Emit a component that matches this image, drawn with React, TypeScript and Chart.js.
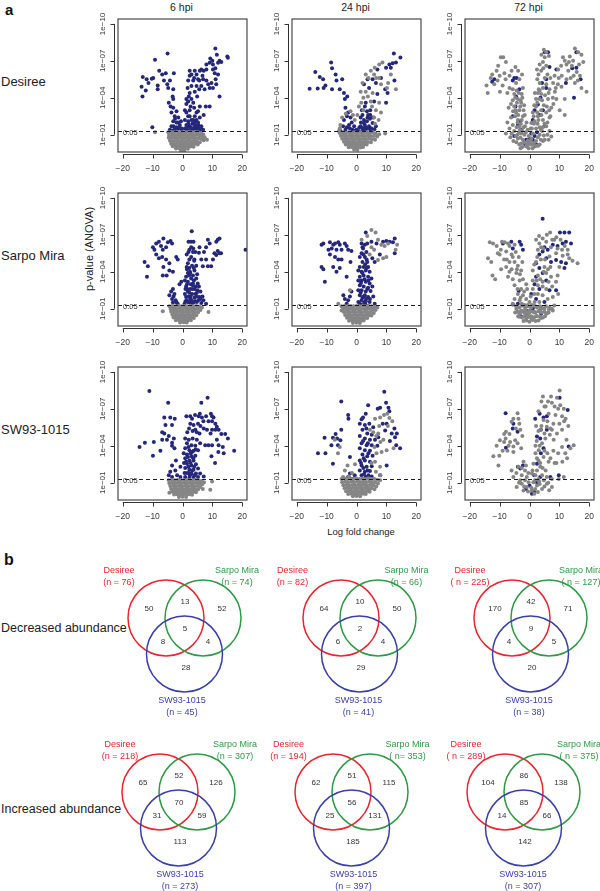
import React, { useEffect, useRef } from 'react';
import { Chart, registerables } from 'chart.js';
Chart.register(...registerables);

const FONT = '"Liberation Sans", Arial, sans-serif';
const NAVY = '#25287a';
const GREY = '#858585';

// ---------- panel (a) axes ----------
const X_TICKS = [-20, -10, 0, 10, 20];
const X_TICK_LABELS = ['\u221220', '\u221210', '0', '10', '20'];
const Y_TICKS = [1, 4, 7, 10]; // -log10(p)
const Y_TICK_LABELS = ['1e\u221201', '1e\u221204', '1e\u221207', '1e\u221210'];
const P_CUTOFF = 0.05;
const TIMEPOINTS = ['6 hpi', '24 hpi', '72 hpi'];
const CULTIVARS = ['Desiree', 'Sarpo Mira', 'SW93-1015'];

// ---------- volcano points: "logFC,-log10(p)" ----------
const D6_SIG = "15,7.35 15.2,7.25 11,8 11.5,7.5 -5,7.6 -9.2,7.1 12.4,7 13,6.9 11.9,6.85 10.2,6.7 9.1,6.85 8,6.7 6.3,6.3 7.1,6.2 5.8,6.2 4.1,6.2 2.4,6.2 3,5.9 4.7,5.9 6.9,5.5 5.6,5.4 3.6,5.4 1.9,5.4 8,5.4 9.7,5.2 11.3,5.1 10.2,4.8 12.4,4.1 9.1,4.8 7.4,4.7 5.6,4.7 4.1,4.5 2.4,4.4 4.9,4.1 3,3.9 1.9,3.7 3.6,3.6 5.8,3.3 7.8,3.3 9.1,3.3 7.1,2.6 4.7,2.8 2.4,3 1.9,2.5 3.6,2.2 5.2,2 6.3,1.7 1.3,1.8 3,1.5 4.7,1.5 1.3,1.4 -13.3,5.7 -12,5.5 -10.3,5.55 -9.8,5.6 -11.4,5.2 -13.7,4.9 -12.3,4.6 -13.4,4.1 -7.8,6.2 -6.8,5.9 -5.6,6 -4.2,5.4 -6.2,5.4 -8.3,5 -8.3,4.7 -5.1,5.1 -4.8,4.8 -3.1,4.7 -2.9,6 -3.3,4.1 -3.1,3.9 -4.6,3.6 -4,3.3 -3.1,3.2 -2,2.9 -3.7,2.8 -2.6,2.5 -1.4,2.4 -3.1,2.1 -2,2 -0.9,1.8 -3.7,1.7 -2.6,1.5 -1.4,1.5 -0.3,1.5 -10.1,1.6 -4.2,1.4 0.8,3 1.3,2.8 2.4,2.5 3,2.2 4.1,2.5 1.9,2.1 4.7,2.2 5.8,2.4 4.1,2 2.4,1.7 3.6,1.4 5.8,1.5 6.9,1.4 0.8,1.5 1.9,1.35 3,1.35 4.7,1.35 5.8,1.35 -0.3,1.35 -2,1.35 -3.1,1.35 -4.2,1.35 0.8,2.2 1.3,3.5 2.7,3.3 3.9,3.2 5.2,2.9 1.3,3.9 2.1,4.1 3,4.95 1.7,4.8 4.7,4.95 6.3,4.95 8.6,5.1 3.9,5.6 5.2,5.5 6.7,5.8 2.4,5.8 8,6.3 10.2,6.3 11,6.4 10.8,6 11.9,5.9 11.1,5.5 10,7 9.3,7.2 2,1.9 3.3,1.9 4.3,1.75 5.3,1.8 1.6,1.6 2.6,1.6 3.9,1.6 5,1.6 6,1.6 -1,1.6 -2,1.6 -3,1.7 -1.5,2 -2.5,2.3 -0.5,2.1";
const D6_NS = "-4.8,1.2 -3.8,1.22 -2.8,1.2 -1.8,1.22 -0.8,1.2 0.2,1.22 1.2,1.2 2.2,1.22 3.2,1.2 4.2,1.22 5.2,1.2 6.2,1.15 6.9,1.05 -4.5,0.98 -3.4,1 -2.3,0.97 -1.3,1 -0.3,0.98 0.7,1 1.7,0.97 2.7,1 3.7,0.97 4.7,1 5.7,0.95 6.6,0.88 7.4,0.8 -4.6,0.75 -3.6,0.75 -2.6,0.78 -1.6,0.74 -0.6,0.77 0.4,0.74 1.4,0.77 2.4,0.74 3.4,0.77 4.4,0.74 5.4,0.72 6.3,0.65 7.1,0.55 -4.2,0.52 -3.2,0.5 -2.2,0.53 -1.2,0.5 -0.2,0.52 0.8,0.5 1.8,0.53 2.8,0.5 3.8,0.52 4.8,0.48 5.8,0.4 -3.8,0.28 -2.8,0.3 -1.8,0.27 -0.8,0.3 0.2,0.28 1.2,0.3 2.2,0.27 3.2,0.3 4.2,0.26 5.1,0.2 -3.3,0.06 -2.3,0.08 -1.3,0.05 -0.3,0.08 0.7,0.05 1.7,0.08 2.7,0.05 3.7,0.03 -2.2,-0.12 -1.2,-0.1 -0.2,-0.14 0.8,-0.1 1.8,-0.13 -0.5,-0.28 0.6,-0.3 -9.2,1.2 8.2,0.6";

const D24_SIG = "14.7,7.27 12.5,7.6 13.2,6.86 12.1,6.8 11,6.7 9.9,6.45 11.5,6.45 7,6.3 8.2,5.6 5.4,5.5 6.5,5.2 3.7,5.5 2.5,5.1 4.2,4.8 9.6,4.7 10.4,4.4 12.7,5.4 9.9,3.6 7,4.3 5.9,3.7 4.6,3 3.1,3.6 2,2.6 3.7,2.4 2.5,1.95 1.4,1.7 4.2,1.7 5.4,1.95 6.5,1.7 3.1,1.4 2,1.35 0.8,1.3 4.8,1.35 2.5,2.2 1.4,2.4 3.9,2.6 -8.5,6.86 -8.2,6.4 -13.8,6.1 -12.3,5.7 -11.2,5.5 -10.4,5 -13,4.76 -15.7,4.73 -11,4.8 -7,5.9 -6.7,5.4 -4.8,5.5 -5.6,4.7 -8.2,4.7 -4.2,4.4 -3.9,3.9 -3.1,4.1 -3.7,3.2 -2.8,2.8 -2,2.4 -4.2,2.2 -2.5,1.8 -3.7,1.4 -1.4,1.4 -5.4,1.3 -0.8,1.7 1.5,2 2.8,1.8 3.5,2.1 4.5,2.3 1,1.6 2,1.55 3,1.6 4,1.5 5,1.5 6,1.45 1.8,3 2.8,3.3 3.5,2.9 4.6,2.6 5.5,2.4 -3.2,1.6 -2.2,1.5 -4.5,1.7 -3.2,2.5 -1.6,2 -1,1.35 0,1.4";
const D24_NS = "7.6,6.7 8.7,6.86 6.1,6.45 4.8,6.2 5.9,5.9 7.6,5.6 3.1,5.9 2,5.2 3.1,4.5 5.4,4.4 8.2,5.1 10.2,4.8 1.4,4.5 2.3,4 4.8,3.7 6.5,3 8.2,2.8 5.9,2.4 2.3,3 0.8,3.3 0.3,2.6 -0.6,2.2 -2,2.9 -4.8,2.4 -5.4,1.8 -5.9,1.3 9.6,1.1 13.2,4.7 10.6,5.2 11.5,5.9 4,5.6 6.6,5.6 3.8,4.1 5.2,3.3 7.6,3.6 1.6,3.6 6.2,1.9 7.4,2.2 -1.2,2.6 -3.6,2.7 -5.6,1.5 -5.6,1.15 -4.6,1.2 -3.6,1.15 -2.6,1.2 -1.6,1.15 -0.6,1.2 0.4,1.15 1.4,1.2 2.4,1.15 3.4,1.2 4.4,1.15 5.4,1.2 6.4,1.1 7.6,1.05 -5.2,0.92 -4.2,0.95 -3.2,0.9 -2.2,0.95 -1.2,0.9 -0.2,0.95 0.8,0.9 1.8,0.95 2.8,0.9 3.8,0.95 4.8,0.9 5.8,0.9 6.9,0.85 -4.8,0.68 -3.8,0.7 -2.8,0.66 -1.8,0.7 -0.8,0.66 0.2,0.7 1.2,0.66 2.2,0.7 3.2,0.66 4.2,0.7 5.2,0.64 6.2,0.6 -4.2,0.44 -3.2,0.46 -2.2,0.42 -1.2,0.46 -0.2,0.42 0.8,0.46 1.8,0.42 2.8,0.46 3.8,0.42 4.8,0.4 -3.6,0.2 -2.6,0.22 -1.6,0.18 -0.6,0.22 0.4,0.18 1.4,0.22 2.4,0.18 3.4,0.2 -2.6,-0.02 -1.6,0 -0.6,-0.04 0.4,0 1.4,-0.03 2.2,0.01 -0.8,-0.2 0.3,-0.22";

const D72_SIG = "-11.8,5.5 -5.1,5.6 -4.3,5.6 -5.6,5.4 -3.4,4.7 -4.5,4.1 -5.6,2.5 -3.9,1.8 -5.1,0.9 -2.8,1.4 1.7,0.9 2.2,0.2 0.6,1.1 3.4,2.6 4.5,3 5.6,4.8 6.7,6.5 5.6,5.5 9,6.3 14.3,6.4 15.7,6.45 17.1,5.5 14.9,4 15.7,7.7 12.2,5.2 1.7,3 2.8,3.45 1.1,2.2 5.1,1.7 -1.1,0.6 1.1,0.6 5.1,7.7 6.2,7.7 -12.5,5.3 -4.7,3.3 -3.1,2.1 -1.4,0.2 0.2,0.7 2.5,1.2 3.7,4 4.2,5.2";
const D72_NS = "19.1,4.5 17.4,4.8 16.9,5.8 16.6,6.7 17.4,7.5 16.3,7.7 15.2,8 13.5,7.35 14.6,7 12.4,6.7 11.2,7.3 9.6,6.3 12.4,5.5 13.8,5.6 15.2,5.2 10.7,4.9 11.8,3.9 10.1,3 11.8,2.6 9,3.9 7.9,5.2 6.7,4.7 8.4,5.8 5.6,7.7 5.1,7.3 4.5,6.9 5.6,6.6 3.9,6.2 5.1,5.6 3.4,5.2 4.5,4.8 2.8,4.4 3.4,3.9 2.2,3.3 3.9,3 2.8,2.5 1.7,2.1 4.5,2.2 5.6,1.7 2.2,1.5 6.7,1.3 7.3,0.86 1.1,1.1 3.4,1 5.1,0.6 2.2,0.5 0.6,0.7 3.4,0.2 1.7,0.05 6.2,3.9 7.3,3.2 5.6,2.8 6.7,2.4 2.2,3.9 1.1,2.8 0.6,1.95 5.6,5.1 3.9,4.3 -14,4.4 -11.8,5.1 -10.7,5.4 -9.6,7.3 -8.8,7.3 -7.9,6.9 -8.4,6 -6.7,5.8 -9,5 -6.7,4.8 -5.6,4.7 -4.5,5.2 -3.4,5.5 -2.2,4.8 -5.1,4.3 -3.9,3.9 -2.8,3.6 -5.1,3.3 -3.4,3 -4.5,2.8 -6.2,2.4 -3.9,2.2 -2.2,2.5 -5.6,1.8 -6.7,1.5 -7.9,1.1 -3.4,1.7 -5.1,1.3 -2.8,1.1 -3.9,0.7 -2.2,0.6 -1.1,0.3 -1.7,1 -0.6,1.4 -1.1,0.05 0,0.3 -2.8,0.3 -13,5.6 -12.5,5.9 -10.5,6.6 -6,6.2 -4.7,6.5 -3.8,6.2 -2.5,5.9 -4.3,4.6 -2.6,4.3 -3.1,3.3 -4.8,2.5 -2.9,1.9 -4.3,1.6 -3.5,1.2 -4.6,0.9 -1.9,0.4 -3,0.75 1.5,0.35 2.8,0.8 4.2,1.3 4.8,0.95 0.5,0.2 3,5.9 4,7.5 4.8,7.9 6.5,7.4 2.5,6.3 3.1,4.7 1.6,3.4 2.6,2.8 3.4,1.6 5,1.9 6,2 7,2.5 8,3.5 8.5,4.5 9.5,5.1 10.8,5.8 13,6.2 14.2,6.6 15.8,6.1 18,6.9 -14.4,5 -9.9,4.5 -6.2,3.5 -5.5,2.9 -6,1.1 -4,1 -2.4,1.3 -1.5,1.7 0.8,1.5 1.5,1.9 2.7,1.9 3.8,1.4 4.5,0.5 6,1 6.4,0.6 -0.3,0.9 -0.6,0.5 2.9,0.1 -4.8,4 -3.6,4.4 -2.4,4 -4.2,3.6 -3,3.8 -1.8,3.4 -4.6,3 -3.8,2.6 -2.6,2.2 -1.6,2.6 -4,2 -3.2,1.4 -2,1.6 -1.2,1.2 -4.4,0.4 -3.4,0.2 -2.4,0 -0.8,0.1 0.4,0.5 1.2,0.2 2.4,0.1 3.8,0.6 4.4,1.6 3,2.2 4,2.6 4.8,3.4 5.2,4.2 6.4,4.4 7,5.6 6,5.9 4.6,6.4 3.4,6.7 2.6,5.5 1.8,4.4 2.6,3.6 1.4,2.5 0.4,1.5 7.8,4 8.8,4.8 9.8,5.6 10.6,6.6 11.8,7 13.2,6.9 14.8,5.8 16.2,5.4 -1,2 -2,3 -5.6,3.8 -7,3.2 -7.4,2 -6.4,0.8 -5.4,0.5 -3,-0.1 -0.3,-0.1 1,-0.1 3.4,4.6 4.2,3.8 5.8,3.3 6.6,3 -10,5.8 -11,6.2 -8,5.5 -7.4,4.4";

const S6_SIG = "-12.7,4.8 -11.6,4.46 -11.9,3.6 -9.9,6 -9.4,5.8 -8.8,6.3 -7.9,6.45 -7.2,6.1 -6.4,6.7 -6.6,5.8 -5.5,6 -4.9,6.4 -4,6.5 -3.5,6.3 -8.8,5.4 -7.9,5.1 -6.8,5.2 -5.5,5 -4.4,4.7 -6.4,4.4 -4.4,4.1 -3.2,4 -6.6,3.7 -5.3,3.7 -2.1,5.2 -1.6,5 -3.2,2.6 -3.8,2.4 -2.7,2.2 -4.4,2.1 -3.5,1.8 -2.3,1.7 -1.6,1.4 -1,3 -0.4,3.2 3.1,7.3 2.9,6.45 2,6.45 3.7,6.45 2.9,6 2.3,5.8 3.5,5.6 2.9,5.2 2.3,5 4,5 1.8,4.7 3.2,4.5 4.6,4.5 2.3,4.3 4,4.1 1.8,3.9 3.5,3.7 1.2,3.6 2.9,3.45 4.6,3.45 1.8,3.2 3.5,3.05 5.1,3.05 1.2,2.8 2.6,2.6 4,2.6 5.5,2.8 1.8,2.4 3.2,2.2 4.8,2.3 6,2.4 1.2,1.95 2.6,1.8 4,1.9 5.7,1.95 7,1.7 1.8,1.55 3.2,1.46 4.8,1.55 6.3,1.46 0.7,1.4 7.9,1.4 8.5,6.6 7.9,6 7.2,5.6 5.7,6 5.5,5.55 6.3,5 6.8,4.46 8.5,4.46 9.6,4.46 10.2,5 10.7,5.5 11.3,5.36 11.8,5.7 12.4,5.5 11.3,6.45 11.8,6.6 12.4,6.7 12.9,5.5 9.1,6.3 7.9,5 21.1,5.8 2.5,4 3.9,4.9 1.5,4.2 2.2,3.7 3.8,3.3 1.5,3 2.3,2.3 3.3,2.6 4.3,2.2 2,2 3,1.7 4.2,1.6 5.3,1.7 2.3,1.5 1,1.6 2.8,3 4.4,2.8 0.8,2.2 1,2.6 -3,2 -2,1.5 -3.2,1.5 1.4,5.4 3.6,5.9 4.3,5.6 2,5.6 1.4,4.4 3.8,4.3 2.6,3.9 0.8,3.3 4.9,3.8 3.4,2.9 1.6,2.6 5,2.5 2.7,2 4.8,2 1.4,1.7 3.7,1.5 5.9,1.8 6.7,2";
const S6_NS = "-4.4,1.2 -3.4,1.22 -2.4,1.2 -1.4,1.22 -0.4,1.2 0.6,1.22 1.6,1.2 2.6,1.22 3.6,1.2 4.6,1.22 5.6,1.18 6.5,1.1 -4,0.98 -3,1 -2,0.97 -1,1 0,0.98 1,1 2,0.97 3,1 4,0.97 5,0.98 6,0.9 -3.8,0.75 -2.8,0.77 -1.8,0.74 -0.8,0.77 0.2,0.74 1.2,0.77 2.2,0.74 3.2,0.77 4.2,0.74 5.2,0.7 -3.4,0.52 -2.4,0.54 -1.4,0.5 -0.4,0.54 0.6,0.5 1.6,0.54 2.6,0.5 3.6,0.53 4.6,0.48 -3,0.3 -2,0.28 -1,0.31 0,0.28 1,0.31 2,0.28 3,0.3 3.8,0.25 -2.2,0.06 -1.2,0.08 -0.2,0.05 0.8,0.08 1.8,0.05 2.8,0.06 -0.8,-0.12 0.4,-0.1 1.4,-0.12 -6.6,0.8 8.7,0.73";

const S24_SIG = "-11.7,6.2 -11.1,6.3 -8.9,6.4 -7.8,6.2 -7.2,6.3 -6.1,6.4 -5.6,6.2 -3.9,6.3 -3.3,6.1 -9.4,5.8 -8.3,5.9 -6.7,5.8 -5,5.8 -2.8,5.8 -1.7,5.7 -8.9,5.4 -7.2,5.2 -6.1,5 -5,5 -2,4.8 -7.8,4.4 -5.6,4.3 -6.7,4 -11.7,4.4 -11.1,4.2 -10.6,3.2 -3.3,3.6 -3.9,1.8 -2.8,1.7 -2.2,2 -1.7,2.4 -3.3,1.4 -4.4,2.1 3.1,7.2 1.7,6.3 2.8,6.2 3.6,6.3 2.2,5.9 1.7,5.5 3.3,5.6 1.1,5.2 2.8,5.2 2,4.8 3.6,4.8 1.1,4.4 2.4,4.4 3.9,4.4 1.7,4 3.1,4.1 4.4,4 1.1,3.6 2.4,3.7 3.9,3.6 5,3.45 1.7,3.3 3.1,3.2 4.4,3.05 1.1,2.9 2.4,2.8 3.9,2.7 5.3,2.8 1.7,2.5 3.1,2.4 4.7,2.45 1.1,2.1 2.4,2 3.9,1.95 5.6,2 1.7,1.7 3.1,1.6 4.4,1.55 6.1,1.4 1.1,1.4 2.4,1.27 3.9,1.2 0.6,1.55 0.6,2.5 0.6,3.3 0.6,4.1 5,6.45 6.7,6.3 8.9,6.45 10,6.5 11.1,6.45 12.8,6.7 12.2,6.4 12.8,5.5 7.8,5.4 5.3,5.1 6.1,4.8 2,3.9 3.4,4.3 1.5,3.1 2.7,3.4 4,3.3 1.4,2.3 2.8,2.1 3.6,2.6 2,1.9 3.2,1.8 4.5,1.8 2.6,1.5 1.8,1.3 3,1.35 2.3,5.4 2,6 2.9,4.6 3.4,5";
const S24_NS = "5,7.4 6.4,7.2 7.2,6.6 8.3,6.2 9.4,6.1 10.6,6.3 13.6,6.2 13.1,5.8 10,5.2 8.9,5.1 7.2,4.95 5.9,5.8 4.4,5.4 5,6 3.6,6.9 1.7,6.6 -4.4,1.1 -2.2,2.5 -2.8,1 -5,0.86 -6.1,1.4 -5,1.2 -4,1.22 -3,1.2 -2,1.22 -1,1.2 0,1.22 1,1.2 2,1.22 3,1.2 4,1.22 5,1.2 6,1.15 7,1.1 -4.6,0.97 -3.6,1 -2.6,0.97 -1.6,1 -0.6,0.97 0.4,1 1.4,0.97 2.4,1 3.4,0.97 4.4,1 5.4,0.95 6.4,0.9 -4.2,0.74 -3.2,0.76 -2.2,0.72 -1.2,0.76 -0.2,0.72 0.8,0.76 1.8,0.72 2.8,0.76 3.8,0.72 4.8,0.74 5.8,0.66 -3.8,0.5 -2.8,0.52 -1.8,0.48 -0.8,0.52 0.2,0.48 1.2,0.52 2.2,0.48 3.2,0.52 4.2,0.48 5,0.45 -3.2,0.26 -2.2,0.28 -1.2,0.25 -0.2,0.28 0.8,0.25 1.8,0.28 2.8,0.25 3.6,0.24 -2.5,0.03 -1.5,0.05 -0.5,0.02 0.5,0.05 1.5,0.02 2.4,0.04 -1.2,-0.15 0,-0.13 1.1,-0.16";

const S72_SIG = "4.4,8.3 10.2,7.2 11.7,7.2 13.3,7.2 12.2,6.45 13.9,6.3 11.1,6.3 9.4,6.1 7.8,6.2 5,6 6.1,5.8 4.4,5.65 3.3,5.4 5.6,5.1 7.2,4.8 8.9,4.95 10.6,4.8 11.7,4.3 12.2,4.7 2.2,4.7 3.3,4.3 4.4,3.9 2.2,3.6 5.6,3.3 1.7,3 3.3,2.6 6.7,2.5 8.9,2.5 0.6,2.2 2.2,1.8 5,1.55 3.9,1.1 1.1,1 -1.1,0.86 -0.6,0.45 -2.8,0.37 1.1,0.3 3.9,0.6 -5.6,1.35 -3.9,1.4 -3.6,2.45 -5.6,5.9 -2.8,6.2 -2.2,5.8 -6.1,6.45 -8.9,6.3 -3.3,6.45";
const S72_NS = "-13.3,6.4 -12.2,6.3 -13.9,5.1 -12.8,4.8 -12.4,3.7 -10.6,5.5 -10,5.4 -9.2,6.45 -8.3,6.4 -7.2,6.3 -6.7,6.1 -5,6.2 -7.8,5.65 -5.6,5.2 -6.7,4.8 -5,4.8 -3.9,4.5 -7.8,4.4 -6.7,4 -7.2,3.6 -4.4,3.9 -2.8,4.1 -3.3,3.3 -5,2.9 -2.8,2.6 -1.1,3 -3.9,2.2 -2.2,2.1 -5,1.8 -3.3,1.7 -1.1,1.8 -5.6,1.4 -1.7,1.3 0,1.55 -4.4,1 -2.8,0.86 -3.3,0.6 -1.7,0.65 0,0.86 1.7,0.73 3.3,0.86 5,1 6.7,1.1 8.3,1.27 7.8,0.86 5.6,0.6 2.2,0.4 0.6,0.2 -1.1,0.2 3.9,0.25 2.2,6.6 3.3,6.3 4.4,6.7 5.6,6.45 6.9,7.2 8.3,6.6 2.8,5.8 3.9,6 6.7,5.25 5,4.4 2.2,4.8 1.1,4.1 2.8,3.7 5.6,3.9 7.2,3.6 4.4,3.2 1.1,3.3 2.8,2.9 4.4,2.8 1.1,2.6 5.6,2.6 2.8,2.2 4.4,2.1 1.7,1.55 3.3,1.55 6.1,1.8 7.8,1.95 8.9,3.2 9.4,3.7 10,4.4 11.1,5.3 12.8,5.4 13.3,5.1 14.4,4.9 16.1,4.7 12.8,5.8 10.9,5.8 9.4,5.9 8.9,5.5 7.2,6 -4.5,1.2 -3.5,1.1 -2.5,1.25 -1.5,1.1 -0.5,1.2 0.5,1.1 1.5,1.25 2.5,1.1 3.5,1.2 4.5,1.05 5.5,1.2 6.5,0.95 7.5,1 -4,0.75 -3,0.7 -2,0.8 -1,0.72 0,0.7 1,0.78 2,0.7 3,0.8 4,0.7 5,0.75 6,0.65 -3.5,0.35 -2.5,0.3 -1.5,0.42 -0.5,0.33 0.5,0.4 1.5,0.3 2.5,0.42 3.5,0.35 4.5,0.3 -2,0 -1,0.05 0,-0.05 1,0.08 2,0 3,0.05 -8.5,5 -9.5,4.2 -11.5,3.4 -6,5.4 -4.6,5.6 -3.6,5.2 -2.4,4.8 -4.2,4.2 -3.2,3.8 -5.6,3.4 -2.2,3.4 -4,2.6 -1.8,2.4 -3,1.9 -0.8,2.6 -2.6,1.4 -0.6,1.3 -9.6,5.8 -11,6.1 -7.6,5 -6,4.2 0.4,2 1.6,2.2 2.4,3.3 3.6,3.4 4.8,4 5.2,5 3.8,5 2.6,5.2 1.6,4.6 6.2,4.2 7,4.4 6.4,3.2 7.6,2.8 9.6,2.2 4.6,5.9 3.2,6.9 5.8,7 7.6,6.6 9,6.8 10.4,6.6 11.8,6.1 0.8,1.3 2,1.2 3.6,0.9 5.2,0.4 6.4,0.7 -0.4,0.5 1.5,0.7 -1.4,0.9 -3.8,0.4 -4.8,0.7";

const W6_SIG = "-11.1,8.45 -4.8,7.5 6.3,7.5 8.4,7.9 -6.1,6.3 -4.1,6.3 -2.6,6.2 -5.7,5.7 -3.5,5.7 -6.8,5.1 -6.1,5 -4.6,4.8 -2.9,4.6 -6.8,4.5 -5.2,4.5 -3.5,4.25 -12.6,4.25 -9.6,4.3 -14.4,3.9 -7.4,3.6 -3.5,4 -2.7,3.8 -9.9,3.2 -2.2,2.8 -3.5,2.4 -4.1,1.9 -2.4,2 -0.7,2.3 -1.8,1.6 -3.5,1.46 -4.6,1.6 -0.7,1.46 1.3,6.4 2.6,6.4 3.2,6.2 5.4,6.4 6.5,6.3 7.9,6.4 9.5,6.6 9.9,6.4 10.4,6.3 3.7,5.7 2.6,5.8 4.3,5.3 4.8,5.1 5.7,5 7.1,5.4 8.2,5.3 8.7,6 9.9,6 11,5.8 11.5,5.55 9.9,5.3 9.4,5 11,5.3 12.1,5.3 13,4.95 14.3,4.95 15.2,4.6 11.5,4.5 8.7,4.05 9.9,4.05 12.1,4.05 13.5,3.9 17.3,3.6 13.8,3.4 12,3.5 9.7,3.15 10.9,2.6 7.6,4.05 5.9,4.2 0.9,4.6 2.1,4.5 3.4,4.6 4.8,4.5 1.5,4.2 3,4.05 4.3,4 0.9,3.8 2.3,3.65 3.7,3.6 5.2,3.65 1.5,3.3 3,3.15 4.3,3.2 0.9,3 2.3,2.8 3.7,2.8 1.5,2.55 3,2.4 4.5,2.5 0.9,2.2 2.3,2.05 3.7,2.05 5.2,2.15 1.5,1.8 3,1.75 4.5,1.75 5.9,1.75 0.9,1.46 2.3,1.4 3.7,1.46 5.2,1.46 7.1,1.5 0.4,3.4 2,3.9 3.2,3.5 4.4,3.7 1.2,2.7 2.7,2.6 3.9,2.3 2,2.3 3.2,2 4.1,1.6 2.5,1.6 1.8,3.1 3.6,3 2.7,3.4 2.1,1.8 0.7,1.8 1.6,5.1 2.2,5.4 3.4,5.2 5.2,5.8 6,5.6 7,6 5.8,6.6 4.2,6.5 0.5,2.6";
const W6_NS = "-4.4,0.18 9.3,0.43 9.9,1.1 -4.6,1.2 -3.6,1.22 -2.6,1.2 -1.6,1.22 -0.6,1.2 0.4,1.22 1.4,1.2 2.4,1.22 3.4,1.2 4.4,1.22 5.4,1.2 6.4,1.15 7.2,1.05 -4.4,0.97 -3.4,1 -2.4,0.97 -1.4,1 -0.4,0.97 0.6,1 1.6,0.97 2.6,1 3.6,0.97 4.6,1 5.6,0.95 6.6,0.88 -4.1,0.74 -3.1,0.76 -2.1,0.72 -1.1,0.76 -0.1,0.72 0.9,0.76 1.9,0.72 2.9,0.76 3.9,0.72 4.9,0.74 5.9,0.66 6.8,0.5 -3.8,0.5 -2.8,0.52 -1.8,0.48 -0.8,0.52 0.2,0.48 1.2,0.52 2.2,0.48 3.2,0.52 4.2,0.48 5.2,0.45 -3.4,0.27 -2.4,0.29 -1.4,0.26 -0.4,0.29 0.6,0.26 1.6,0.29 2.6,0.26 3.6,0.28 4.5,0.22 -2.8,0.04 -1.8,0.06 -0.8,0.03 0.2,0.06 1.2,0.03 2.2,0.06 3.2,0.03 -1.2,-0.15 0,-0.13 1.2,-0.15";

const W24_SIG = "9.3,8.4 9.9,7.5 10.7,7.1 11,6.8 -5.1,7.6 -2.8,6.5 3.9,7.3 7.1,7 7.9,7.1 3.1,6.6 1.7,6.15 1.1,5.8 2.8,5.7 4.3,5.8 5.6,5.5 2,5.3 3.6,5 5.1,4.9 1.1,4.8 2.8,4.6 4.5,4.5 6.2,4.5 7.3,4.7 1.7,4.2 3.4,4.05 5.1,4.05 7,4 1.1,3.8 2.8,3.65 4.5,3.6 2,3.3 3.6,3.15 5.4,3.2 1.1,2.8 2.8,2.8 4.5,2.7 1.7,2.4 3.4,2.3 5.1,2.35 1.1,2 2.8,1.9 4.5,1.95 1.7,1.6 3.1,1.46 5.1,1.5 7.9,1.6 10.1,2.4 -2.2,3.1 -2.2,1.75 -2.8,1.46 -0.6,1.6 -1.3,1.3 8.8,5.8 10.1,5.8 11.8,5 12.9,4.7 13.5,5 12.7,5.4 14.6,3.8 13.3,4.05 11.2,4.4 9.6,5.25 -10.7,4.65 -7.9,4.65 -7,4.95 -6.5,4.6 -5.1,5.3 -5.4,4.45 -8.4,4.05 -12.9,3.4 -10.4,3.4 -7.9,2.55 -6.2,4.05 -2.7,6.2 2.2,4.4 3.8,4.2 2.4,3 4,3.4 1.5,2.6 2.3,2.2 3.7,2 2.5,1.7 4,1.6 2.2,6.3 3.3,5.4";
const W24_NS = "11,6.25 10.3,6.6 9.2,6.5 7.9,6.3 6.2,6.2 7.6,5.6 5.6,5.1 7.3,5 9,4.5 12.4,3.8 10.1,3.65 8.4,3.5 6.7,3.4 6.2,2.7 7.9,2.3 -5.6,3.9 -7.3,4.5 -6.2,3.4 -3.9,2 -4.5,1.46 2.2,1.05 8,1.6 6.5,1.9 5,2.6 6,3.9 8,4.3 4.5,5.3 6.6,4.8 10.5,5.6 12,6 -1.5,1.8 -3,2.4 -2.5,1.5 -0.5,2.5 -5,1.3 -4,1.35 -3,1.3 -2,1.35 -1,1.3 0,1.35 1,1.3 2,1.35 3,1.3 4,1.35 5,1.3 6,1.3 7,1.25 7.9,1.2 -4.8,1.05 -3.8,1.08 -2.8,1.04 -1.8,1.08 -0.8,1.04 0.2,1.08 1.2,1.04 2.2,1.08 3.2,1.04 4.2,1.08 5.2,1.04 6.2,1.02 7.2,0.95 -4.4,0.8 -3.4,0.82 -2.4,0.78 -1.4,0.82 -0.4,0.78 0.6,0.82 1.6,0.78 2.6,0.82 3.6,0.78 4.6,0.82 5.6,0.78 6.6,0.7 -4,0.55 -3,0.57 -2,0.53 -1,0.57 0,0.53 1,0.57 2,0.53 3,0.57 4,0.53 5,0.55 6,0.48 -3.5,0.32 -2.5,0.34 -1.5,0.3 -0.5,0.34 0.5,0.3 1.5,0.34 2.5,0.3 3.5,0.33 4.4,0.28 -2.8,0.09 -1.8,0.11 -0.8,0.08 0.2,0.11 1.2,0.08 2.2,0.11 3.1,0.08 -1.2,-0.1 0,-0.08 1.2,-0.1";

const W72_SIG = "-8,6.65 -5.4,5.8 -5.6,5.4 -4,5.15 -7.9,3.85 -3.9,2.3 -3.1,2.15 -2.2,2.4 1.9,6.2 3.4,6.6 4.7,6.3 5.8,6.4 3.8,5.3 2.5,4.75 3.6,4.6 4.7,3.8 3.8,3.4 2.5,2.55 1.6,1.6 3.6,1.46 7,1.46 9.8,1.6 0,0.78 0.8,0.1 10.1,7.9 12.8,6.9 13.1,3.95 5.8,5.3 2.5,1.05 -1.2,0.5 1.5,0.3";
const W72_NS = "10.1,8.5 9.2,7.9 7.5,7.5 4.5,8 7.2,8 10.3,7.3 11.5,7 10.9,6.4 12.1,6.2 8.7,6.5 6.4,6.6 4.7,6.1 5.8,5.55 7.5,5.3 9.2,5 10.9,5.3 12.4,4.5 14.8,4.05 13.7,3.8 12.6,3 10.9,3.9 8.1,4.5 5.3,4.6 3.6,5.3 4.2,4.2 3.1,3.65 4.7,3.1 6.4,2.7 2.5,3 1.3,2.55 3.6,2.3 2.5,2 0.8,1.75 4.2,1.6 5.8,1.46 7.5,1.3 11.5,1.46 9.8,1.3 -0.9,1.46 -2.6,1.6 -3.7,2.3 -2,2.7 -1.5,2 -5.4,1.46 -4.3,0.65 -2.6,0.92 -0.9,0.65 0.8,0.37 2.5,0.78 4.2,0.5 5.8,0.92 7.5,0.65 1.3,1.05 -0.3,1.05 -2,0.37 2.8,0.24 -3.1,1.2 -12.1,3.15 -10.1,3.2 -9.9,4.45 -8.5,4.95 -7.9,5.15 -6.7,4.95 -6,5.95 -5.4,6.2 -4,6.65 -3.7,6.2 -4.8,4.45 -6.5,4.3 -5.4,3.95 -4,4.2 -5.4,3.5 -3.1,5.3 -8.5,4.3 -7.4,3.6 -10.4,2.4 2.2,5.6 3,6.8 5,7.2 6,6 6.8,4.9 8,3.6 9,2.6 2,4 3,2.8 1.8,1.2 3.2,1.1 4.8,1.2 6.3,1 -1.5,1.2 -3.5,1 -1.8,0.7 -0.5,0.3 0.6,0.6 1.9,0.5 3.4,0.9 5,0.7 6.6,0.4 1.6,0.1 4,7.6 5.4,7.2 6.2,7.6 8.4,7.2 9.6,7 11.6,6 13,5.6 10,5.8 8,5.8 7,5.4 5,5 4,5.6 3,5.2 2.4,4.4 3.4,4 5,3.6 6,3.4 7,3 8.4,2.6 9.6,3.4 11,2.7 12,3.4 2,3.4 3.6,2.6 4.4,2.2 5.4,2 1,2 2,1.6 3,1.3 -0.4,1.8 -1.2,2.4 -2.6,2.2 -4.4,1.8 -6,2 -7,4 -8,4.6 -9,3.6 -11,4 -4.6,5.4 -3.4,5.8 -2.4,4.8 -2.8,3.8";

const PANELS = [
  [[D6_SIG, D6_NS], [D24_SIG, D24_NS], [D72_SIG, D72_NS]],
  [[S6_SIG, S6_NS], [S24_SIG, S24_NS], [S72_SIG, S72_NS]],
  [[W6_SIG, W6_NS], [W24_SIG, W24_NS], [W72_SIG, W72_NS]],
];

// ---------- panel (b) Venn counts ----------
// order: D only, D∩S, S only, D∩S∩W, D∩W, S∩W, W only
const VENN_DECREASED = [
  [50, 13, 52, 5, 8, 4, 28],
  [64, 10, 50, 2, 6, 4, 29],
  [170, 42, 71, 9, 4, 5, 20],
];
const VENN_INCREASED = [
  [65, 52, 126, 70, 31, 59, 113],
  [62, 51, 115, 56, 25, 131, 185],
  [104, 86, 138, 85, 14, 66, 142],
];
const TOTALS_DECREASED = [[76, 74, 45], [82, 66, 41], [225, 127, 38]];
const TOTALS_INCREASED = [[218, 307, 273], [194, 353, 397], [289, 375, 307]];
const N_PREFIX_DECREASED = [['(n = ', '(n = ', '(n = '], ['(n = ', '(n = ', '(n = '], ['( n = ', '( n = ', '(n = ']];
const N_PREFIX_INCREASED = [['(n = ', '(n = ', '(n = '], ['(n = ', '( n= ', '(n = '], ['( n = ', '( n = ', '(n = ']];
const ROW_NAMES = ['Decreased abundance', 'Increased abundance'];

// ---------- layout ----------
const COL_LEFT = [118, 292, 465];
const ROW_TOP = [19, 193, 367];
const BOX_W = 129;
const BOX_H = 133;
const PAD = { left: 32, right: 8, top: 6, bottom: 26 };
const VENN_CX = [[185, 359.5, 531], [179, 351.5, 524]];
const VENN_CY = [618, 792];
const ROW_NAME_Y = [628, 809];
const VENN_LBL_DX = [[[-66, 52, -3], [-67, 47, -1], [-61, 50, -2]], [[-59, 56, 1], [-63, 56, 2], [-58, 55, -1]]];
const VENN_COLORS = ['#e9262e', '#2f9a45', '#3a3fa9'];
const VENN_CIRCLES = [{ x: -19, y: 0 }, { x: 18, y: 0 }, { x: -0.5, y: -36 }];
const VENN_R = 38;
const VENN_SPOTS = [[-36, 9], [0, 16], [37, 9], [0, -11], [-22, -24], [23, -24], [1, -50]];

const parsePts = (s: string) =>
  s.trim().split(/\s+/).map((p) => {
    const [x, y] = p.split(',').map(Number);
    return { x, y };
  });

const rAxes = {
  id: 'rAxes',
  afterDraw(chart: any) {
    const { ctx, chartArea: a, scales } = chart;
    const x = scales.x;
    const y = scales.y;
    ctx.save();
    const yc = Math.round(y.getPixelForValue(-Math.log10(P_CUTOFF))) + 0.5;
    ctx.strokeStyle = '#1c1c1c';
    ctx.lineWidth = 1;
    ctx.setLineDash([4, 3]);
    ctx.beginPath();
    ctx.moveTo(a.left, yc);
    ctx.lineTo(a.right, yc);
    ctx.stroke();
    ctx.setLineDash([]);
    ctx.fillStyle = '#333';
    ctx.font = `7.5px ${FONT}`;
    ctx.textAlign = 'left';
    ctx.textBaseline = 'middle';
    ctx.fillText(String(P_CUTOFF), a.left + 5, yc + 1.5);
    ctx.strokeStyle = '#4a4a4a';
    ctx.lineWidth = 1.2;
    ctx.strokeRect(a.left, a.top, a.right - a.left, a.bottom - a.top);
    ctx.lineWidth = 1;
    ctx.strokeStyle = '#333';
    const yb = a.bottom + 2.5;
    ctx.beginPath();
    ctx.moveTo(x.getPixelForValue(X_TICKS[0]), yb);
    ctx.lineTo(x.getPixelForValue(X_TICKS[X_TICKS.length - 1]), yb);
    X_TICKS.forEach((t) => {
      const px = Math.round(x.getPixelForValue(t)) + 0.5;
      ctx.moveTo(px, yb);
      ctx.lineTo(px, yb + 4);
    });
    ctx.stroke();
    ctx.fillStyle = '#3a3a3a';
    ctx.font = `8.5px ${FONT}`;
    ctx.textAlign = 'center';
    X_TICKS.forEach((t, i) => ctx.fillText(X_TICK_LABELS[i], x.getPixelForValue(t), a.bottom + 16.5));
    const xl = a.left - 3.5;
    ctx.beginPath();
    ctx.moveTo(xl, y.getPixelForValue(Y_TICKS[0]));
    ctx.lineTo(xl, y.getPixelForValue(Y_TICKS[Y_TICKS.length - 1]));
    Y_TICKS.forEach((t) => {
      const py = Math.round(y.getPixelForValue(t)) + 0.5;
      ctx.moveTo(xl, py);
      ctx.lineTo(xl - 4, py);
    });
    ctx.stroke();
    ctx.font = `8px ${FONT}`;
    Y_TICKS.forEach((t, i) => {
      ctx.save();
      ctx.translate(a.left - 15.5, y.getPixelForValue(t));
      ctx.rotate(-Math.PI / 2);
      ctx.fillText(Y_TICK_LABELS[i], 0, 0);
      ctx.restore();
    });
    ctx.restore();
  },
};

function Volcano({ left, top, sig, ns }: { left: number; top: number; sig: string; ns: string }) {
  const ref = useRef<HTMLCanvasElement>(null);
  const W = BOX_W + PAD.left + PAD.right;
  const H = BOX_H + PAD.top + PAD.bottom;
  useEffect(() => {
    const chart = new Chart(ref.current as HTMLCanvasElement, {
      type: 'scatter',
      data: {
        datasets: [
          { data: parsePts(ns), backgroundColor: GREY, borderColor: GREY, pointRadius: 2, pointBorderWidth: 0 },
          { data: parsePts(sig), backgroundColor: NAVY, borderColor: NAVY, pointRadius: 2, pointBorderWidth: 0 },
        ],
      },
      options: {
        animation: false,
        responsive: false,
        events: [],
        layout: { padding: PAD },
        plugins: { legend: { display: false }, tooltip: { enabled: false } },
        scales: {
          x: { type: 'linear', min: -21.6, max: 21.6, display: false },
          y: { type: 'linear', min: -0.4, max: 10.4, display: false },
        },
      },
      plugins: [rAxes],
    } as any);
    return () => chart.destroy();
  }, []);
  return (
    <canvas
      ref={ref}
      width={W}
      height={H}
      style={{ position: 'absolute', left: left - PAD.left, top: top - PAD.top, width: W, height: H }}
    />
  );
}

const vennPlugin = {
  id: 'venn',
  afterDraw(chart: any) {
    const { ctx, scales } = chart;
    const x = scales.x;
    const y = scales.y;
    const counts: number[] = chart.options.plugins.venn.counts;
    const rpx = x.getPixelForValue(VENN_R) - x.getPixelForValue(0);
    ctx.save();
    ctx.lineWidth = 1.5;
    VENN_CIRCLES.forEach((c, i) => {
      ctx.strokeStyle = VENN_COLORS[i];
      ctx.beginPath();
      ctx.arc(x.getPixelForValue(c.x), y.getPixelForValue(c.y), rpx, 0, Math.PI * 2);
      ctx.stroke();
    });
    ctx.fillStyle = '#333';
    ctx.font = `8px ${FONT}`;
    ctx.textAlign = 'center';
    ctx.textBaseline = 'middle';
    VENN_SPOTS.forEach((s, i) => ctx.fillText(String(counts[i]), x.getPixelForValue(s[0]), y.getPixelForValue(s[1])));
    ctx.restore();
  },
};

function Venn({ cx, cy, counts }: { cx: number; cy: number; counts: number[] }) {
  const ref = useRef<HTMLCanvasElement>(null);
  useEffect(() => {
    const chart = new Chart(ref.current as HTMLCanvasElement, {
      type: 'scatter',
      data: { datasets: [{ data: VENN_CIRCLES.map((c) => ({ x: c.x, y: c.y })), pointRadius: 0 }] },
      options: {
        animation: false,
        responsive: false,
        events: [],
        layout: { padding: 0 },
        plugins: { legend: { display: false }, tooltip: { enabled: false }, venn: { counts } },
        scales: {
          x: { type: 'linear', min: -62, max: 62, display: false },
          y: { type: 'linear', min: -80, max: 44, display: false },
        },
      },
      plugins: [vennPlugin],
    } as any);
    return () => chart.destroy();
  }, []);
  return (
    <canvas ref={ref} width={124} height={124} style={{ position: 'absolute', left: cx - 62, top: cy - 44, width: 124, height: 124 }} />
  );
}

function T({ x, y, size, children, color = '#222', bold = false, align = 'center', rotate = 0 }: any) {
  const tx = align === 'center' ? '-50%' : align === 'right' ? '-100%' : '0';
  return (
    <div
      style={{
        position: 'absolute',
        left: x,
        top: y,
        fontSize: size,
        lineHeight: 1,
        whiteSpace: 'nowrap',
        color,
        fontWeight: bold ? 700 : 400,
        transform: `translate(${tx}, -50%)${rotate ? ` rotate(${rotate}deg)` : ''}`,
        transformOrigin: align === 'center' ? '50% 50%' : '0 50%',
      }}
    >
      {children}
    </div>
  );
}

export default function App() {
  const vennRows = [
    { counts: VENN_DECREASED, totals: TOTALS_DECREASED, pre: N_PREFIX_DECREASED },
    { counts: VENN_INCREASED, totals: TOTALS_INCREASED, pre: N_PREFIX_INCREASED },
  ];
  return (
    <div
      style={{
        position: 'absolute',
        left: 0,
        top: 0,
        width: 600,
        height: 891,
        overflow: 'hidden',
        background: '#fff',
        fontFamily: FONT,
      }}
    >
      <T x={5} y={9} size={15} bold align="left" color="#111">a</T>
      {TIMEPOINTS.map((t, j) => (
        <T key={t} x={COL_LEFT[j] + BOX_W / 2 - 1} y={6.5} size={10.5}>{t}</T>
      ))}
      {CULTIVARS.map((c, i) => (
        <T key={c} x={1} y={ROW_TOP[i] + 62} size={13} align="left">{c}</T>
      ))}
      <T x={89} y={249} size={11} rotate={-90}>p-value (ANOVA)</T>
      <T x={361} y={532} size={9.5}>Log fold change</T>
      {PANELS.map((row, i) =>
        row.map((p, j) => <Volcano key={`${i}-${j}`} left={COL_LEFT[j]} top={ROW_TOP[i]} sig={p[0]} ns={p[1]} />)
      )}
      <T x={4} y={560} size={16} bold align="left" color="#111">b</T>
      {ROW_NAMES.map((r, k) => (
        <T key={r} x={1} y={ROW_NAME_Y[k]} size={12.5} align="left">{r}</T>
      ))}
      {vennRows.map((vr, k) =>
        vr.counts.map((cnt, j) => {
          const cx = VENN_CX[k][j];
          const cy = VENN_CY[k];
          const dx = VENN_LBL_DX[k][j];
          const topY = cy - 48.5;
          const botY = cy + 82;
          return (
            <React.Fragment key={`v${k}-${j}`}>
              <Venn cx={cx} cy={cy} counts={cnt} />
              <T x={cx + dx[0]} y={topY} size={9} color={VENN_COLORS[0]}>{CULTIVARS[0]}</T>
              <T x={cx + dx[0]} y={topY + 12} size={9} color={VENN_COLORS[0]}>{`${vr.pre[j][0]}${vr.totals[j][0]})`}</T>
              <T x={cx + dx[1]} y={topY} size={9} color={VENN_COLORS[1]}>{CULTIVARS[1]}</T>
              <T x={cx + dx[1]} y={topY + 12} size={9} color={VENN_COLORS[1]}>{`${vr.pre[j][1]}${vr.totals[j][1]})`}</T>
              <T x={cx + dx[2]} y={botY} size={9} color={VENN_COLORS[2]}>{CULTIVARS[2]}</T>
              <T x={cx + dx[2]} y={botY + 11.5} size={9} color={VENN_COLORS[2]}>{`${vr.pre[j][2]}${vr.totals[j][2]})`}</T>
            </React.Fragment>
          );
        })
      )}
    </div>
  );
}
